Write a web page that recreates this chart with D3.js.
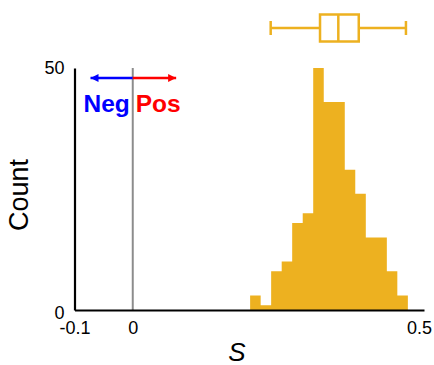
<!DOCTYPE html>
<html>
<head>
<meta charset="utf-8">
<script src="https://cdn.jsdelivr.net/npm/d3@7"></script>
<style>
    body { margin: 0; background: #fff; }
    svg { display: block; font-family: "Liberation Sans", Arial, sans-serif; }
</style>
</head>
<body>
<div class="chart"></div>
<script>
// histogram bins (left edges + last right edge) and counts
const binEdges = [0.2015, 0.2196, 0.2376, 0.2557, 0.2737, 0.2918, 0.3098, 0.3279,
    0.3459, 0.3640, 0.3820, 0.4001, 0.4181, 0.4362, 0.4542, 0.4723];
const binCounts = [3, 1, 8, 10, 18, 20, 50, 43, 43, 29, 24, 15, 15, 8, 3];

// box plot summary: whisker low, q1, median, q3, whisker high
const boxStats = [0.2368, 0.3215, 0.3529, 0.3880, 0.4690];

const xTicks = [-0.1, 0, 0.5];
const yTicks = [0, 50];
const xDomain = [-0.1, 0.5];
const yDomain = [0, 50];

const barColor = "#EDB120";

let width = 434, height = 365;
let margin = {top: 68, right: 10, bottom: 55, left: 74.5};

const svg = d3.select(".chart").append("svg")
    .attr("width", width)
    .attr("height", height);

let x = d3.scaleLinear().domain(xDomain).range([margin.left, 424]);
let y = d3.scaleLinear().domain(yDomain).range([height - margin.bottom, margin.top]);

function drawBars() {
    // one step-shaped outline so neighbouring bars have no seams between them
    let pts = binCounts.map((c, i) => [binEdges[i], c]);
    pts.push([binEdges[binEdges.length - 1], 0]);
    let area = d3.area()
        .x(d => x(d[0]))
        .y0(y(0))
        .y1(d => y(d[1]))
        .curve(d3.curveStepAfter);
    svg.append("path")
        .datum(pts)
        .attr("d", area)
        .attr("fill", barColor);
}

function drawZeroLine() {
    svg.append("line")
        .attr("x1", x(0)).attr("x2", x(0))
        .attr("y1", y(0)).attr("y2", y(50))
        .attr("stroke", "#8c8c8c")
        .attr("stroke-width", 2);
}

function drawAxes() {
    let gx = svg.append("g")
        .attr("transform", `translate(0,${y(0)})`)
        .call(d3.axisBottom(x).tickValues(xTicks).tickSize(0).tickPadding(11)
            .tickFormat(d => d === 0 ? "0" : d3.format(".1f")(d).replace("−", "-")));
    gx.select(".domain").attr("stroke", "#000").attr("stroke-width", 2.2);
    gx.selectAll("text").attr("font-size", 18).attr("fill", "#000")
        .attr("font-family", "Liberation Sans, Arial, sans-serif");
    // last label is pulled in so it stays inside the picture
    gx.selectAll(".tick text").filter(d => d === 0.5).attr("dx", -5);

    let gy = svg.append("g")
        .attr("transform", `translate(${margin.left},0)`)
        .call(d3.axisLeft(y).tickValues(yTicks).tickSize(0).tickPadding(10));
    gy.select(".domain").attr("stroke", "#000").attr("stroke-width", 2.2);
    gy.selectAll("text").attr("font-size", 18).attr("fill", "#000")
        .attr("font-family", "Liberation Sans, Arial, sans-serif");
    // the 0 label sits a little low in the original
    gy.selectAll(".tick text").filter(d => d === 0).attr("dy", "0.45em");

    svg.append("text")
        .attr("transform", `translate(28,195) rotate(-90)`)
        .attr("text-anchor", "middle")
        .attr("font-size", 27)
        .text("Count");

    svg.append("text")
        .attr("x", 237)
        .attr("y", 361)
        .attr("text-anchor", "middle")
        .attr("font-size", 26)
        .attr("font-style", "italic")
        .text("S");
}

function drawArrows() {
    let defs = svg.append("defs");
    [["blue", "#0000ff"], ["red", "#ff0000"]].forEach(([id, c]) => {
        defs.append("marker")
            .attr("id", "head-" + id)
            .attr("viewBox", "0 0 10 10")
            .attr("refX", 10).attr("refY", 5)
            .attr("markerWidth", 14).attr("markerHeight", 8)
            .attr("markerUnits", "userSpaceOnUse")
            .attr("orient", "auto")
            .append("path")
            .attr("d", "M0,0L10,5L0,10Z")
            .attr("fill", c);
    });

    let ay = 78;
    svg.append("line")
        .attr("x1", x(0)).attr("x2", x(-0.0725))
        .attr("y1", ay).attr("y2", ay)
        .attr("stroke", "#0000ff").attr("stroke-width", 2.4)
        .attr("marker-end", "url(#head-blue)");
    svg.append("line")
        .attr("x1", x(0)).attr("x2", x(0.0745))
        .attr("y1", ay).attr("y2", ay)
        .attr("stroke", "#ff0000").attr("stroke-width", 2.4)
        .attr("marker-end", "url(#head-red)");

    svg.append("text")
        .attr("x", x(0) - 3).attr("y", 112)
        .attr("text-anchor", "end")
        .attr("font-size", 24.5).attr("font-weight", "bold")
        .attr("fill", "#0000ff")
        .text("Neg");
    svg.append("text")
        .attr("x", x(0) + 3).attr("y", 112)
        .attr("text-anchor", "start")
        .attr("font-size", 24.5).attr("font-weight", "bold")
        .attr("fill", "#ff0000")
        .text("Pos");
}

function drawBoxPlot() {
    let cy = 28, boxH = 27, capH = 14;
    let g = svg.append("g")
        .attr("stroke", barColor)
        .attr("stroke-width", 2.5)
        .attr("fill", "none");

    g.append("line")
        .attr("x1", x(boxStats[0])).attr("x2", x(boxStats[1]))
        .attr("y1", cy).attr("y2", cy);
    g.append("line")
        .attr("x1", x(boxStats[3])).attr("x2", x(boxStats[4]))
        .attr("y1", cy).attr("y2", cy);
    [boxStats[0], boxStats[4]].forEach(v => {
        g.append("line")
            .attr("x1", x(v)).attr("x2", x(v))
            .attr("y1", cy - capH / 2).attr("y2", cy + capH / 2);
    });
    g.append("rect")
        .attr("x", x(boxStats[1]))
        .attr("width", x(boxStats[3]) - x(boxStats[1]))
        .attr("y", cy - boxH / 2)
        .attr("height", boxH);
    g.append("line")
        .attr("x1", x(boxStats[2])).attr("x2", x(boxStats[2]))
        .attr("y1", cy - boxH / 2).attr("y2", cy + boxH / 2);
}

drawBars();
drawZeroLine();
drawAxes();
drawArrows();
drawBoxPlot();
</script>
</body>
</html>
